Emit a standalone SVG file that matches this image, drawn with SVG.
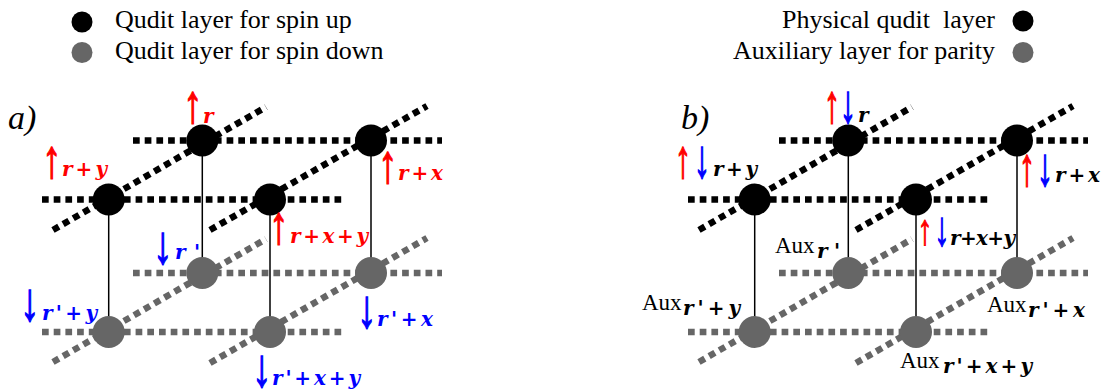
<svg xmlns="http://www.w3.org/2000/svg" width="1105" height="391" viewBox="0 0 1105 391">
<style>
.leg{font-family:"Liberation Serif",serif;font-size:26px;fill:#000;white-space:pre}
.lbl{font-family:"Liberation Serif",serif;font-size:34px;font-style:italic;fill:#000}
.arr{font-family:"Liberation Serif",serif;font-size:54px;font-style:italic;text-anchor:middle;stroke-width:1.4}
.sub{font-family:"DejaVu Serif",serif;font-size:20px;font-weight:bold;font-style:italic}
.aux{font-family:"Liberation Serif",serif;font-size:23px;fill:#000}
.red{fill:#ff0000}.blue{fill:#0000ff}.blk{fill:#000}
.arr.red{stroke:#ff0000}.arr.blue{stroke:#0000ff}
.dk{stroke:#000;stroke-width:6.5;stroke-dasharray:6.7 5;fill:none}
.gr{stroke:#666;stroke-width:6.5;stroke-dasharray:6.7 5;fill:none}
.vl{stroke:#000;stroke-width:1.5;fill:none}
.nb{fill:#000}.ng{fill:#666}
</style>
<g id="legend-a">
<circle class="nb" cx="82" cy="22" r="10.5"/>
<circle class="ng" cx="82" cy="52.5" r="10.5"/>
<text class="leg" x="115" y="28">Qudit layer for spin up</text>
<text class="leg" x="115" y="59">Qudit layer for spin down</text>
</g>
<g id="legend-b">
<circle class="nb" cx="1023" cy="21" r="10.5"/>
<circle class="ng" cx="1023" cy="52.5" r="10.5"/>
<text class="leg" x="995" y="28" text-anchor="end">Physical qudit  layer</text>
<text class="leg" x="995" y="59" text-anchor="end">Auxiliary layer for parity</text>
</g>
<text class="lbl" x="8" y="129">a)</text>
<text class="lbl" x="681" y="129">b)</text>
<g id="connectors">
<line class="gr" x1="133" y1="273" x2="442" y2="273"/>
<line class="gr" x1="42" y1="332" x2="343" y2="332"/>
<line class="gr" x1="53" y1="362" x2="266" y2="239"/>
<line class="gr" x1="210" y1="363" x2="427" y2="238"/>
<line class="gr" x1="779" y1="273" x2="1088" y2="273"/>
<line class="gr" x1="688" y1="332" x2="989" y2="332"/>
<line class="gr" x1="699" y1="362" x2="912" y2="239"/>
<line class="gr" x1="856" y1="363" x2="1073" y2="238"/>
<line class="vl" x1="108.7" y1="199.5" x2="108.7" y2="332"/>
<line class="vl" x1="202.3" y1="140.5" x2="202.3" y2="273"/>
<line class="vl" x1="270" y1="199.5" x2="270" y2="332"/>
<line class="vl" x1="371" y1="140.5" x2="371" y2="273"/>
<line class="vl" x1="754.7" y1="199.5" x2="754.7" y2="332"/>
<line class="vl" x1="848.3" y1="140.5" x2="848.3" y2="273"/>
<line class="vl" x1="916" y1="199.5" x2="916" y2="332"/>
<line class="vl" x1="1017" y1="140.5" x2="1017" y2="273"/>
<line class="dk" x1="133" y1="140.5" x2="442" y2="140.5"/>
<line class="dk" x1="42" y1="199.5" x2="343" y2="199.5"/>
<line class="dk" x1="53" y1="230" x2="266" y2="107"/>
<line class="dk" x1="210" y1="230" x2="427" y2="106"/>
<line class="dk" x1="779" y1="140.5" x2="1088" y2="140.5"/>
<line class="dk" x1="688" y1="199.5" x2="989" y2="199.5"/>
<line class="dk" x1="699" y1="230" x2="912" y2="107"/>
<line class="dk" x1="856" y1="230" x2="1073" y2="106"/>
</g>
<g id="node-a-up-r"><circle class="nb" cx="202.3" cy="140.5" r="16"/></g>
<g id="node-a-up-rx"><circle class="nb" cx="371" cy="140.5" r="16"/></g>
<g id="node-a-up-ry"><circle class="nb" cx="108.7" cy="199.5" r="16"/></g>
<g id="node-a-up-rxy"><circle class="nb" cx="270" cy="199.5" r="16"/></g>
<g id="node-a-dn-r"><circle class="ng" cx="202.3" cy="273" r="16"/></g>
<g id="node-a-dn-rx"><circle class="ng" cx="371" cy="273" r="16"/></g>
<g id="node-a-dn-ry"><circle class="ng" cx="108.7" cy="332" r="16"/></g>
<g id="node-a-dn-rxy"><circle class="ng" cx="270" cy="332" r="16"/></g>
<g id="node-b-ph-r"><circle class="nb" cx="848.3" cy="140.5" r="16"/></g>
<g id="node-b-ph-rx"><circle class="nb" cx="1017" cy="140.5" r="16"/></g>
<g id="node-b-ph-ry"><circle class="nb" cx="754.7" cy="199.5" r="16"/></g>
<g id="node-b-ph-rxy"><circle class="nb" cx="916" cy="199.5" r="16"/></g>
<g id="node-b-aux-r"><circle class="ng" cx="848.3" cy="273" r="16"/></g>
<g id="node-b-aux-rx"><circle class="ng" cx="1017" cy="273" r="16"/></g>
<g id="node-b-aux-ry"><circle class="ng" cx="754.7" cy="332" r="16"/></g>
<g id="node-b-aux-rxy"><circle class="ng" cx="916" cy="332" r="16"/></g>
<g id="labels-a">
<text class="arr red" transform="translate(193,122) scale(0.7,1)">↑</text><text class="sub red" x="203" y="123">r</text>
<text class="arr red" transform="translate(52,177) scale(0.7,1)">↑</text><text class="sub red" x="62" y="176" textLength="45">r+y</text>
<text class="arr red" transform="translate(388,182) scale(0.7,1)">↑</text><text class="sub red" x="398" y="180" textLength="45">r+x</text>
<text class="arr red" transform="translate(279,243) scale(0.7,1)">↑</text><text class="sub red" x="290" y="243" textLength="78">r+x+y</text>
<text class="arr blue" transform="translate(163,263) scale(0.7,1)">↓</text><text class="sub blue" x="175" y="259" textLength="25">r'</text>
<text class="arr blue" transform="translate(30,320) scale(0.7,1)">↓</text><text class="sub blue" x="42" y="320" textLength="55">r'+y</text>
<text class="arr blue" transform="translate(367,327) scale(0.7,1)">↓</text><text class="sub blue" x="377" y="326" textLength="56">r'+x</text>
<text class="arr blue" transform="translate(262,386) scale(0.7,1)">↓</text><text class="sub blue" x="272" y="385" textLength="88">r'+x+y</text>
</g>
<g id="labels-b">
<text class="arr red" transform="translate(832,122) scale(0.6,1)">↑</text><text class="arr blue" transform="translate(848,122) scale(0.6,1)">↓</text><text class="sub blk" x="858" y="122">r</text>
<text class="arr red" transform="translate(683,177) scale(0.6,1)">↑</text><text class="arr blue" transform="translate(702,177) scale(0.6,1)">↓</text><text class="sub blk" x="713" y="176" textLength="44">r+y</text>
<text class="arr red" transform="translate(1027,185) scale(0.6,1)">↑</text><text class="arr blue" transform="translate(1045,185) scale(0.6,1)">↓</text><text class="sub blk" x="1055" y="182" textLength="45">r+x</text>
<text class="arr red" transform="translate(925,244) scale(0.55,0.8)">↑</text><text class="arr blue" transform="translate(942,245) scale(0.55,0.9)">↓</text><text class="sub blk" x="950" y="245" font-size="17" textLength="65">r+x+y</text>
<text class="aux" x="775" y="253">Aux</text><text class="sub blk" x="817" y="258" textLength="23">r'</text>
<text class="aux" x="642" y="310">Aux</text><text class="sub blk" x="683" y="315" textLength="57">r'+y</text>
<text class="aux" x="987" y="312">Aux</text><text class="sub blk" x="1028" y="317" textLength="57">r'+x</text>
<text class="aux" x="900" y="368">Aux</text><text class="sub blk" x="943" y="373" textLength="89">r'+x+y</text>
</g>
</svg>
